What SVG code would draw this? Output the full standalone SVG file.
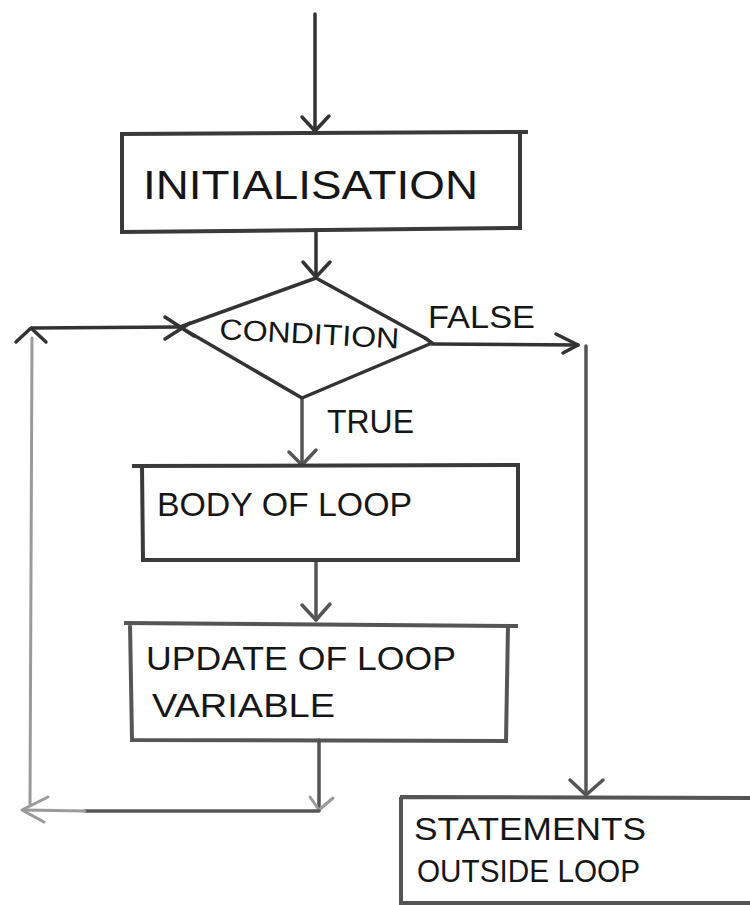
<svg xmlns="http://www.w3.org/2000/svg" width="750" height="905" viewBox="0 0 750 905">
<style>
.bg{fill:#ffffff}
.box{fill:none;stroke:#3a3a3a;stroke-width:4;stroke-linejoin:miter}
.line{fill:none;stroke:#333;stroke-width:3.5;stroke-linecap:round;stroke-linejoin:round}
.faint{fill:none;stroke:#9a9a9a;stroke-width:3;stroke-linecap:round;stroke-linejoin:round}
.mid{fill:none;stroke:#555;stroke-width:3.5;stroke-linecap:round;stroke-linejoin:round}
.t{font-family:"Liberation Sans","DejaVu Sans",sans-serif;fill:#161616}
</style>
<rect class="bg" x="0" y="0" width="750" height="905"/>

<g id="connectors">
  <!-- entry -->
  <path class="line" d="M315 14 L315 130"/>
  <path class="line" d="M302 117 L315 131 L329 116"/>
  <!-- init to condition -->
  <path class="line" d="M316 230 L316 276"/>
  <path class="line" d="M303 262 L316 277 L330 262"/>
  <!-- true -->
  <path class="mid" d="M302 399 L302 464"/>
  <path class="mid" d="M289 452 L302 465 L316 450"/>
  <!-- body to update -->
  <path class="mid" d="M316 561 L316 620"/>
  <path class="mid" d="M302 605 L316 620 L330 604"/>
  <!-- false -->
  <path class="line" d="M432 344 L578 345"/>
  <path class="line" d="M556 334 L578 345 L563 353"/>
  <path class="mid" d="M586 346 L586 793"/>
  <path class="mid" d="M570 780 L586 795 L603 780"/>
  <!-- loop back -->
  <path class="mid" d="M319 740 L319 810"/>
  <path class="faint" d="M310 797 L319 810 L333 798"/>
  <path class="mid" d="M319 811 L85 811"/>
  <path class="faint" d="M85 811 L24 810"/>
  <path class="faint" d="M48 797 L22 810 L44 822"/>
  <path class="faint" d="M30 805 L32 338"/>
  <path class="line" d="M32 328 L180 327"/>
  <path class="line" d="M16 342 L31 328 L46 342"/>
  <path class="line" d="M165 317 L194 336"/>
  <path class="line" d="M165 339 L190 323"/>
</g>

<g id="initialisation">
  <path class="box" d="M120 134 L528 132 M122 134 L122 232 L520 228 L520 132"/>
  <text class="t" x="143" y="199" font-size="40" textLength="335" lengthAdjust="spacingAndGlyphs">INITIALISATION</text>
</g>

<g id="condition">
  <path class="line" d="M180 327 L316 278 L425 338"/>
  <path class="line" d="M185 330 L302 398 L432 343 L425 338"/>
  <text class="t" x="219" y="339" font-size="29" textLength="180" lengthAdjust="spacingAndGlyphs" transform="rotate(3 219 339)">CONDITION</text>
  <text class="t" x="428" y="328" font-size="32" textLength="107" lengthAdjust="spacingAndGlyphs">FALSE</text>
  <text class="t" x="327" y="433" font-size="34" textLength="87" lengthAdjust="spacingAndGlyphs">TRUE</text>
</g>

<g id="body">
  <path class="box" d="M132 466 L520 465 M142 466 L143 560 L518 560 L518 466"/>
  <text class="t" x="157" y="516" font-size="34" textLength="255" lengthAdjust="spacingAndGlyphs">BODY OF LOOP</text>
</g>

<g id="update">
  <path class="box" d="M124 623 L518 626 M130 624 L132 740 L506 741 L508 625" style="stroke:#555"/>
  <text class="t" x="146" y="670" font-size="34" textLength="310" lengthAdjust="spacingAndGlyphs">UPDATE OF LOOP</text>
  <text class="t" x="152" y="717" font-size="34" textLength="183" lengthAdjust="spacingAndGlyphs">VARIABLE</text>
</g>

<g id="statements">
  <path class="box" d="M400 797 L752 798 M401 797 L401 903 L752 903" style="stroke:#555"/>
  <text class="t" x="414" y="840" font-size="32" textLength="232" lengthAdjust="spacingAndGlyphs">STATEMENTS</text>
  <text class="t" x="417" y="882" font-size="32" textLength="223" lengthAdjust="spacingAndGlyphs">OUTSIDE LOOP</text>
</g>
</svg>
